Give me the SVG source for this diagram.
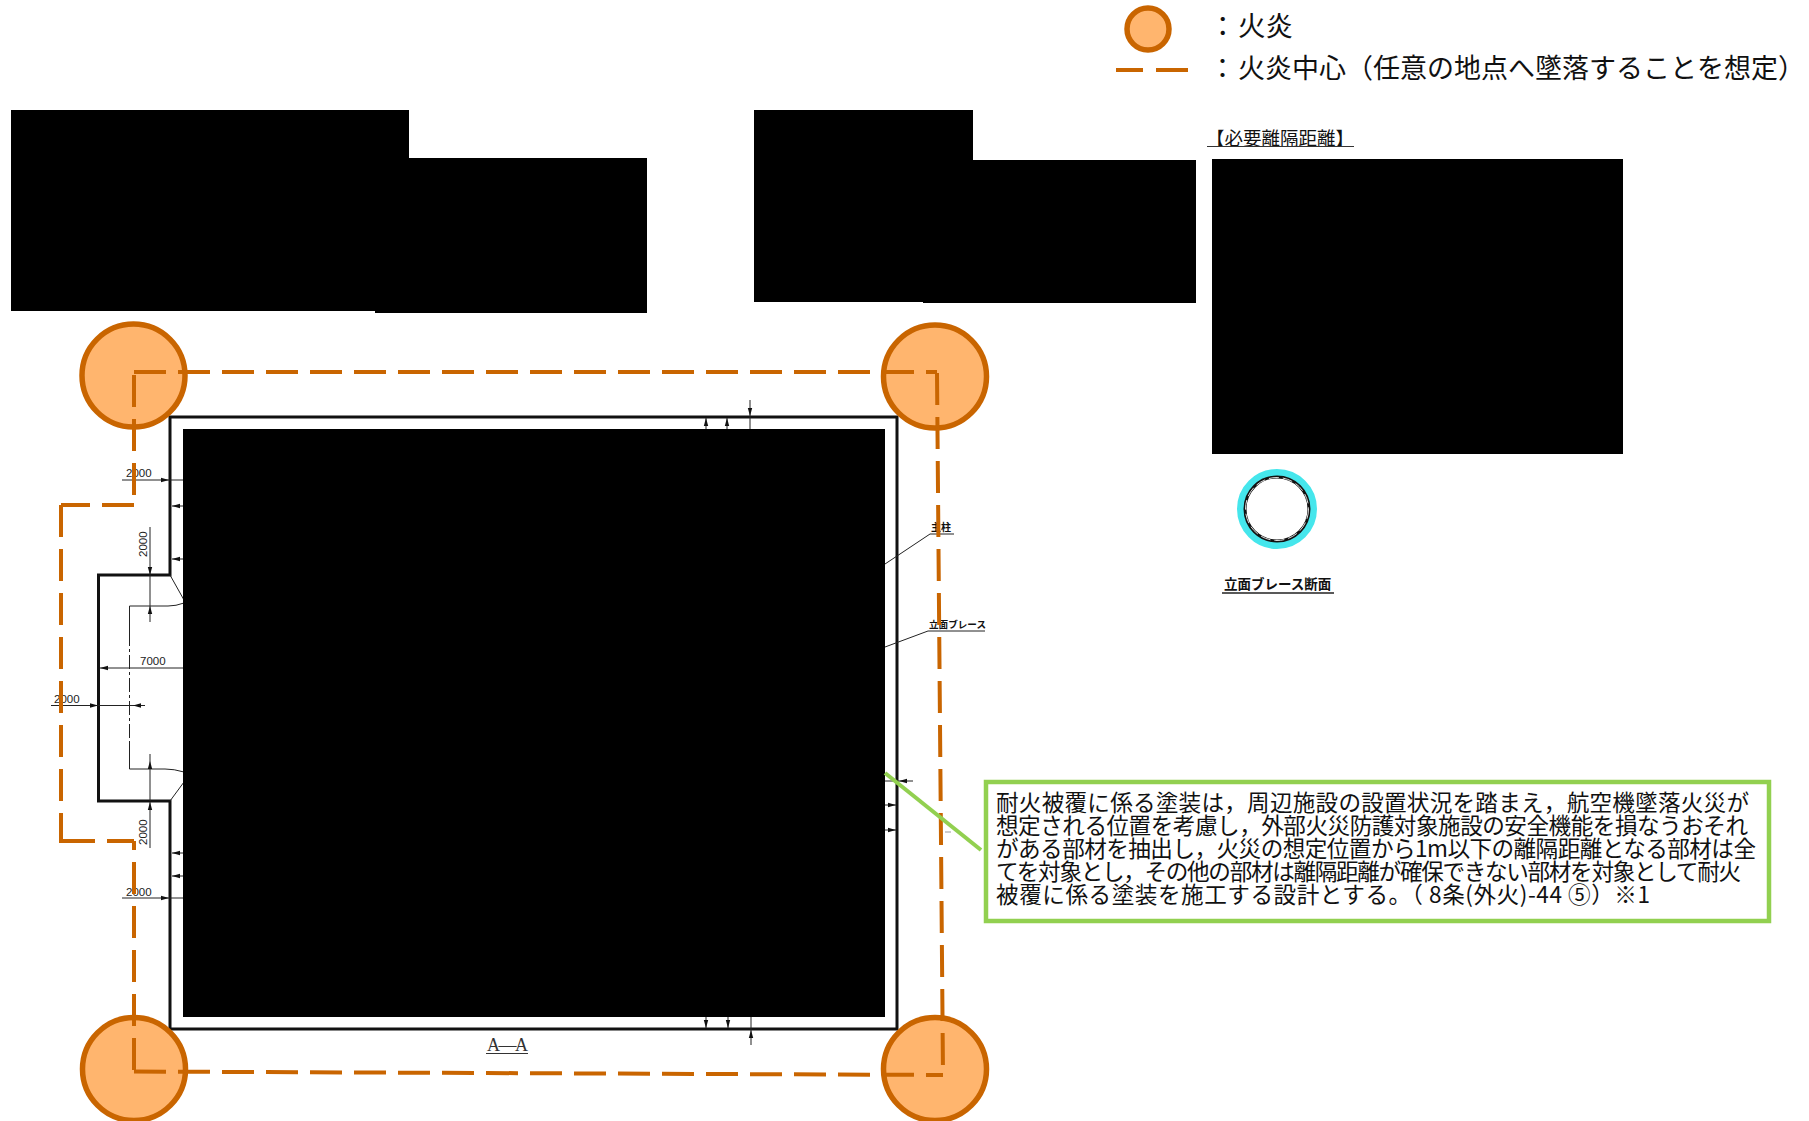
<svg xmlns="http://www.w3.org/2000/svg" width="1809" height="1121" viewBox="0 0 1809 1121">
<style>
.cj{font-family:"Noto Sans CJK JP","Noto Sans",sans-serif;fill:#111}
.dim{font-family:"Liberation Sans",Arial,sans-serif;font-size:11.5px;fill:#222}
.fire{fill:#FFB56E;stroke:#C96500;stroke-width:5.500}
.dash{fill:none;stroke:#C96500;stroke-width:4;stroke-dasharray:32 12}
.thin{fill:none;stroke:#222;stroke-width:1}
.arr{fill:none;stroke:#222;stroke-width:1;marker-end:url(#ah)}
.ul{stroke:#333;stroke-width:1.2}
.blk{fill:#000}
.note{font-size:22.6px}
</style>
<defs>
<marker id="ah" markerUnits="userSpaceOnUse" markerWidth="9" markerHeight="6" refX="8" refY="3" orient="auto"><path d="M0,0.8L8,3L0,5.2Z" fill="#111"/></marker>
</defs>
<rect width="1809" height="1121" fill="#fff"/>

<g id="structure">
<path d="M170,575V417H897V1029H170V801H98.5V575Z" fill="#fff" stroke="#111" stroke-width="3"/>
<path class="thin" d="M129.5,606H168Q176,606 184,603M129.5,769H165Q174,769 184,772M170,575L184,600M170,801L184,782"/>
<path class="thin" d="M129.5,606V632M129.5,743V769"/>
<path class="thin" stroke-dasharray="14 3 3 3" d="M129.5,632V743"/>
</g>

<g id="dimensions">
<path class="arr" d="M122,480H169"/><path class="thin" d="M169,480H184"/>
<path class="arr" d="M184,506H172"/>
<path class="arr" d="M184,559H172"/>
<path class="arr" d="M150,527V575"/>
<path class="arr" d="M150,622V606"/><path class="thin" d="M150,575V606"/>
<path class="arr" d="M184,668H100"/>
<path class="thin" d="M51,705.5H145"/>
<path class="arr" d="M80,705.5H98"/><path class="arr" d="M145,705.5H133"/>
<path class="arr" d="M150,801V761"/><path class="arr" d="M150,848V802"/><path class="thin" d="M150,754V761"/>
<path class="arr" d="M184,853H172"/>
<path class="arr" d="M184,876H172"/>
<path class="arr" d="M122,898H169"/><path class="thin" d="M169,898H184"/>
<path class="arr" d="M706,429V418"/><path class="arr" d="M727,429V418"/>
<path class="arr" d="M750,400V416"/><path class="thin" d="M750,416V429"/>
<path class="arr" d="M706,1017V1028"/><path class="arr" d="M728,1017V1028"/>
<path class="arr" d="M751,1045V1030"/><path class="thin" d="M751,1030V1017"/>
<path class="arr" d="M913,781H899"/><path class="thin" d="M885,781H899"/>
<path class="arr" d="M885,805H896"/>
<path class="arr" d="M885,830H896"/>
<path d="M945,832H951" stroke="#999" stroke-width="1"/>
<text class="dim" x="126" y="477">2000</text>
<text class="dim" x="140" y="665">7000</text>
<text class="dim" x="54" y="703">2000</text>
<text class="dim" x="126" y="896">2000</text>
<text class="dim" transform="translate(147,557) rotate(-90)">2000</text>
<text class="dim" transform="translate(147,845) rotate(-90)">2000</text>
</g>

<g id="labels">
<text class="cj" x="931" y="531" font-size="10" font-weight="700">主柱</text>
<path class="thin" d="M885,564L930,534H954"/>
<text class="cj" x="929" y="628" font-size="9.6" font-weight="700">立面ブレース</text>
<path class="thin" d="M885,647L928,631H985"/>
<text x="487" y="1051" font-family="'Liberation Serif',serif" font-size="18" fill="#333" textLength="41">A—A</text>
<path class="ul" d="M486,1053.5H528"/>
</g>

<g id="redactions">
<rect class="blk" x="11" y="110" width="398" height="201"/>
<rect class="blk" x="375" y="158" width="272" height="155"/>
<rect class="blk" x="754" y="110" width="219" height="192"/>
<rect class="blk" x="923" y="160" width="273" height="143"/>
<rect class="blk" x="1212" y="159" width="411" height="295"/>
<rect class="blk" x="183" y="429" width="702" height="588"/>
</g>

<g id="required-distance">
<text class="cj" x="1206" y="145" font-size="18.500" fill="#222">【必要離隔距離】</text>
<path class="ul" d="M1207,146.500H1354"/>
</g>

<g id="brace-section">
<circle cx="1277" cy="509" r="36.500" fill="#fff" stroke="#45E6EC" stroke-width="7"/>
<circle cx="1277" cy="509" r="32" fill="#fff" stroke="#111" stroke-width="3"/>
<circle cx="1277" cy="509" r="31.500" fill="none" stroke="#ddd" stroke-width="1" stroke-dasharray="10 4"/>
<text class="cj" x="1224" y="589" font-size="13.500" font-weight="700">立面ブレース断面</text>
<path d="M1222,593H1334" stroke="#222" stroke-width="1.500"/>
</g>

<g id="fires">
<circle class="fire" cx="133.500" cy="375.500" r="51.500"/>
<circle class="fire" cx="935" cy="376.500" r="51.500"/>
<circle class="fire" cx="134" cy="1069" r="51.500"/>
<circle class="fire" cx="935" cy="1069" r="51.500"/>
</g>

<g id="connectors">
<path class="dash" d="M134,372H937"/>
<path class="dash" d="M134,375V495"/>
<path class="dash" d="M134,505H61"/>
<path class="dash" d="M61,505V843"/>
<path class="dash" d="M63,841H134"/>
<path class="dash" d="M134,841V1072" stroke-dashoffset="23"/>
<path class="dash" d="M134,1071.500L943,1075"/>
<path class="dash" d="M937,373L943,1075"/>
<path d="M885,773L981,850" stroke="#92D050" stroke-width="4" fill="none"/>
</g>

<g id="note">
<rect x="986" y="782" width="783" height="139" fill="#fff" stroke="#92D050" stroke-width="4.500"/>
<text class="cj note"><tspan x="996" y="811" textLength="753">耐火被覆に係る塗装は，周辺施設の設置状況を踏まえ，航空機墜落火災が</tspan><tspan x="996" y="834" textLength="752">想定される位置を考慮し，外部火災防護対象施設の安全機能を損なうおそれ</tspan><tspan x="996" y="857" textLength="760">がある部材を抽出し，火災の想定位置から1m以下の離隔距離となる部材は全</tspan><tspan x="996" y="880" textLength="745">てを対象とし，その他の部材は離隔距離が確保できない部材を対象として耐火</tspan><tspan x="996" y="903" textLength="654">被覆に係る塗装を施工する設計とする。（ 8条(外火)-44 ⑤）※1</tspan></text>
</g>

<g id="legend">
<circle class="fire" cx="1148" cy="29" r="21"/>
<path d="M1116,70H1143M1156,70H1188" stroke="#C96500" stroke-width="4" fill="none"/>
<text class="cj" x="1209" y="36" font-size="27.500">：<tspan x="1238">火炎</tspan></text>
<text class="cj" x="1209" y="78" font-size="27">：<tspan x="1238">火炎中心（任意の地点へ墜落することを想定）</tspan></text>
</g>
</svg>
